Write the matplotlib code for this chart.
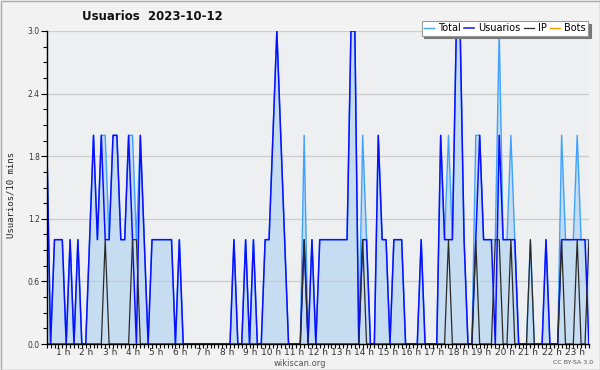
import matplotlib
matplotlib.use("Agg")
import matplotlib.pyplot as plt
import matplotlib.transforms as mtransforms
from matplotlib.patches import Rectangle
from matplotlib.ticker import MultipleLocator
import numpy as np

# values per 10 minutes, 00:00 .. 23:10
total = [2, 0, 1, 1, 1, 0, 1, 0, 1, 0, 0, 1,
         2, 1, 2, 2, 1, 2, 2, 1, 1, 2, 2, 1,
         2, 1, 0, 1, 1, 1, 1, 1, 1, 0, 1, 0,
         0, 0, 0, 0, 0, 0, 0, 0, 0, 0, 0, 0,
         1, 0, 0, 1, 0, 1, 0, 0, 1, 1, 2, 3,
         2, 1, 0, 0, 0, 0, 2, 0, 1, 0, 1, 1,
         1, 1, 1, 1, 1, 1, 3, 3, 0, 2, 1, 0,
         0, 2, 1, 1, 0, 1, 1, 1, 0, 0, 0, 0,
         1, 0, 0, 0, 0, 2, 1, 2, 1, 3, 3, 1,
         0, 0, 2, 2, 1, 1, 1, 1, 3, 1, 1, 2,
         1, 0, 0, 0, 1, 0, 0, 0, 1, 0, 0, 0,
         2, 1, 1, 1, 2, 1, 1, 1]

usuarios = [2, 0, 1, 1, 1, 0, 1, 0, 1, 0, 0, 1,
            2, 1, 2, 1, 1, 2, 2, 1, 1, 2, 1, 0,
            2, 1, 0, 1, 1, 1, 1, 1, 1, 0, 1, 0,
            0, 0, 0, 0, 0, 0, 0, 0, 0, 0, 0, 0,
            1, 0, 0, 1, 0, 1, 0, 0, 1, 1, 2, 3,
            2, 1, 0, 0, 0, 0, 1, 0, 1, 0, 1, 1,
            1, 1, 1, 1, 1, 1, 3, 3, 0, 1, 1, 0,
            0, 2, 1, 1, 0, 1, 1, 1, 0, 0, 0, 0,
            1, 0, 0, 0, 0, 2, 1, 1, 1, 3, 3, 1,
            0, 0, 1, 2, 1, 1, 1, 0, 2, 1, 1, 1,
            1, 0, 0, 0, 0, 0, 0, 0, 1, 0, 0, 0,
            1, 1, 1, 1, 1, 1, 1, 0]

ip = [0, 0, 0, 0, 0, 0, 0, 0, 0, 0, 0, 0,
      0, 0, 0, 1, 0, 0, 0, 0, 0, 0, 1, 1,
      0, 0, 0, 0, 0, 0, 0, 0, 0, 0, 0, 0,
      0, 0, 0, 0, 0, 0, 0, 0, 0, 0, 0, 0,
      0, 0, 0, 0, 0, 0, 0, 0, 0, 0, 0, 0,
      0, 0, 0, 0, 0, 0, 1, 0, 0, 0, 0, 0,
      0, 0, 0, 0, 0, 0, 0, 0, 0, 1, 0, 0,
      0, 0, 0, 0, 0, 0, 0, 0, 0, 0, 0, 0,
      0, 0, 0, 0, 0, 0, 0, 1, 0, 0, 0, 0,
      0, 0, 1, 0, 0, 0, 0, 1, 1, 0, 0, 1,
      0, 0, 0, 0, 1, 0, 0, 0, 0, 0, 0, 0,
      1, 0, 0, 0, 1, 0, 0, 1]

bots = [0, 0, 0, 0, 0, 0, 0, 0, 0, 0, 0, 0,
        0, 0, 0, 0, 0, 0, 0, 0, 0, 0, 0, 0,
        0, 0, 0, 0, 0, 0, 0, 0, 0, 0, 0, 0,
        0, 0, 0, 0, 0, 0, 0, 0, 0, 0, 0, 0,
        0, 0, 0, 0, 0, 0, 0, 0, 0, 0, 0, 0,
        0, 0, 0, 0, 0, 0, 0, 0, 0, 0, 0, 0,
        0, 0, 0, 0, 0, 0, 0, 0, 0, 0, 0, 0,
        0, 0, 0, 0, 0, 0, 0, 0, 0, 0, 0, 0,
        0, 0, 0, 0, 0, 0, 0, 0, 0, 0, 0, 0,
        0, 0, 0, 0, 0, 0, 0, 0, 0, 0, 0, 0,
        0, 0, 0, 0, 0, 0, 0, 0, 0, 0, 0, 0,
        0, 0, 0, 0, 0, 0, 0, 0]

hours = list(range(1, 24))
hour_labels = [f'{h} h' for h in hours]
y_ticks = [0.0, 0.6, 1.2, 1.8, 2.4, 3.0]

W, H = 600, 370
fig = plt.figure(figsize=(6, 3.7), dpi=100, facecolor='#f2f2f2')
ax = fig.add_axes([46.7 / W, 1 - 344 / H, (589.3 - 46.7) / W, (344 - 31) / H])
ax.set_facecolor('#eeeff1')

x = np.arange(len(total))
ax.fill_between(x, total, color='#c6dcf0', lw=0, zorder=1)
ax.plot(x, total, color='#3fa2ff', lw=1.0, label='Total', zorder=2)
ax.plot(x, usuarios, color='#0a10ff', lw=1.1, label='Usuarios', zorder=2.1)
ax.plot(x, ip, color='#2a2a2a', lw=0.9, label='IP', zorder=2.2)
ax.plot(x, bots, color='#ff9900', lw=1.0, label='Bots', zorder=1.2)

ax.set_xlim(0, 139.1)
ax.set_ylim(0, 3.0)

# y axis
ax.set_yticks(y_ticks)
ax.set_yticklabels([f'{v:.1f}' for v in y_ticks])
ax.yaxis.set_minor_locator(MultipleLocator(0.15))
ax.set_axisbelow('line')
ax.yaxis.grid(True, color='#cccccc', lw=0.9)

# x axis: one tick per 10 minutes, labels every hour
ax.set_xticks([h * 6 for h in hours])
ax.set_xticklabels(hour_labels)
ax.xaxis.set_minor_locator(MultipleLocator(1))
shift = mtransforms.ScaledTranslation(2.5 / 100, 0, fig.dpi_scale_trans)
for lab in ax.get_xticklabels():
    lab.set_horizontalalignment('right')
    lab.set_transform(lab.get_transform() + shift)

ax.tick_params(axis='x', which='both', length=3, width=0.8, colors='black',
               labelsize=6.5, labelcolor='#333333', pad=0)
ax.tick_params(axis='y', which='major', length=4, width=0.8, colors='black',
               labelsize=5.5, labelcolor='#333333', pad=1)
ax.tick_params(axis='y', which='minor', length=3, width=0.8, colors='black')

for s in ['top', 'right']:
    ax.spines[s].set_visible(False)
for s in ['left', 'bottom']:
    ax.spines[s].set_linewidth(1.0)
    ax.spines[s].set_color('black')

ax.set_ylabel('Usuarios/10 mins', family='DejaVu Sans Mono', fontsize=6.5,
              color='#222222')
ax.yaxis.set_label_coords((15 - 46.7) / 542.6, (344 - 195) / 313)

# title and footers
fig.text(152 / W, 1 - 17 / H, 'Usuarios  2023-10-12', ha='center', va='center',
         fontsize=8.5, fontweight='bold', color='#111111')
fig.text(300 / W, 1 - 363 / H, 'wikiscan.org', ha='center', va='center',
         fontsize=6, color='#555555')
fig.text(573 / W, 1 - 363 / H, 'CC BY-SA 3.0', ha='center', va='center',
         fontsize=4.5, color='#555555')

leg = ax.legend(loc='upper right', bbox_to_anchor=(593 / W, 1 - 16 / H),
                bbox_transform=fig.transFigure, ncol=4, fontsize=7,
                handlelength=1.0, handletextpad=0.4, columnspacing=0.4,
                borderpad=0.25, frameon=True, fancybox=False,
                shadow={'color': '#777777', 'alpha': 1.0},
                edgecolor='#999999', framealpha=1.0)
leg.get_frame().set_linewidth(0.8)

fig.patches.append(Rectangle((0.5 / W, 0.5 / H), 1 - 1 / W, 1 - 1 / H,
                             transform=fig.transFigure, fill=False,
                             edgecolor='#aaaaaa', lw=1))

fig.savefig('out.png', dpi=100, facecolor=fig.get_facecolor())
